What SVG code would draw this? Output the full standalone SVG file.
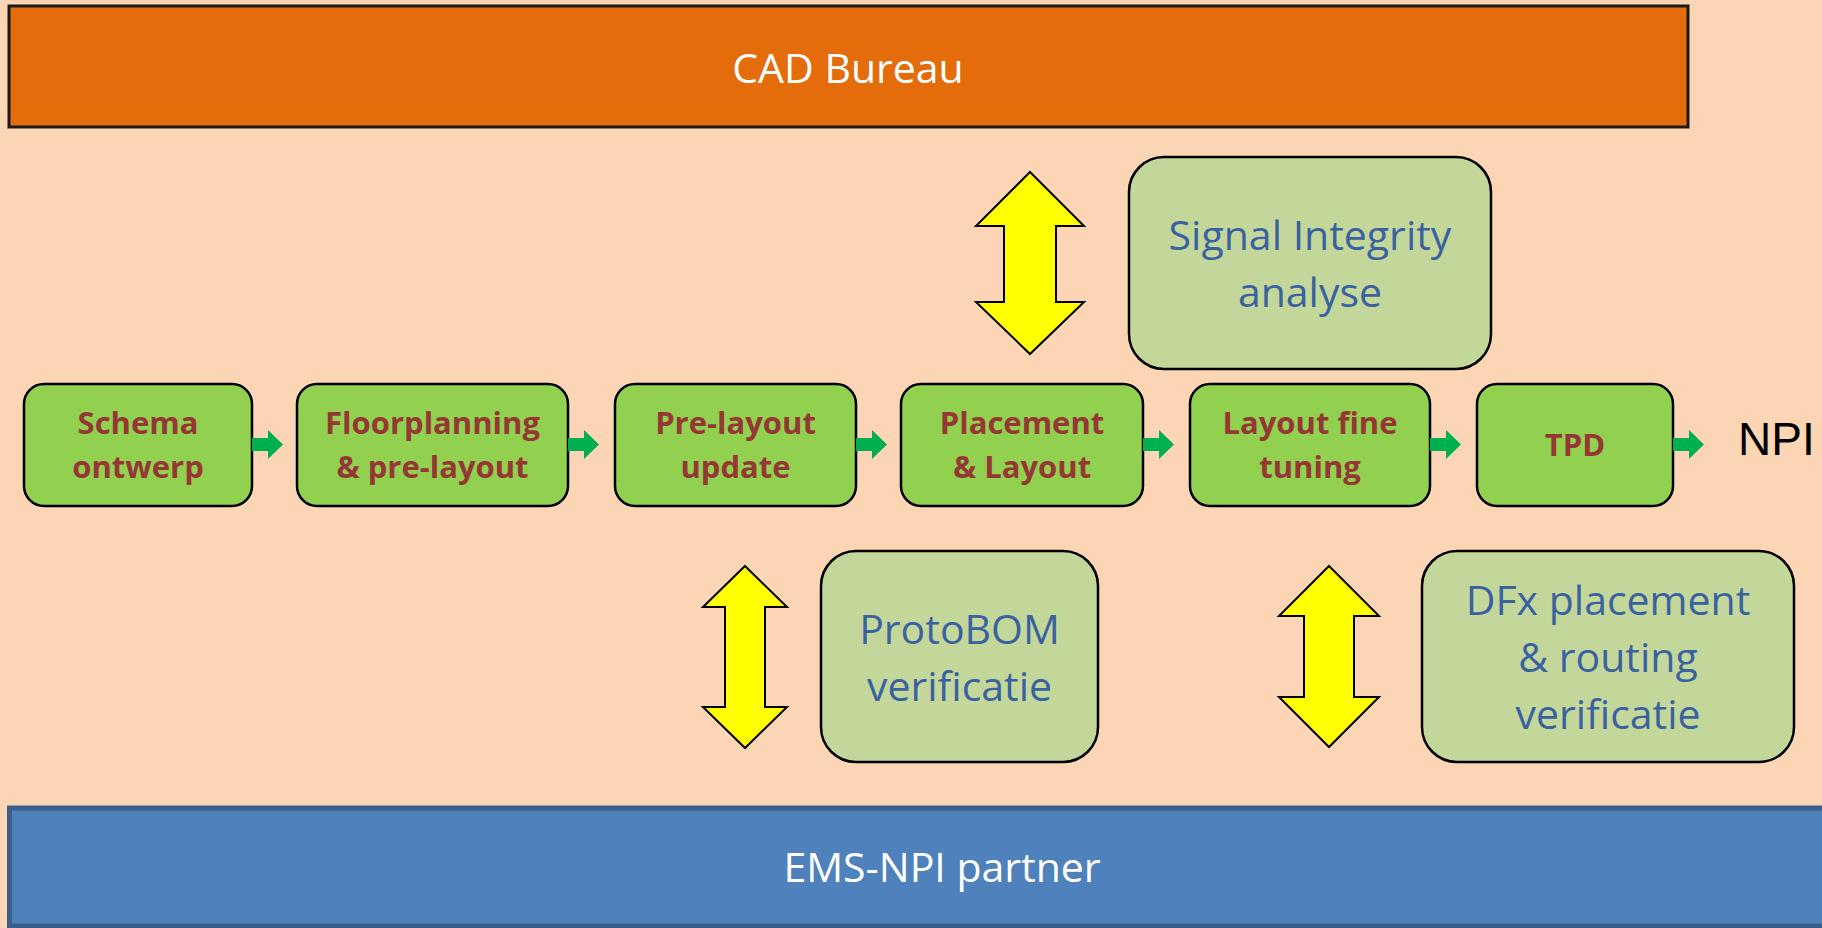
<svg xmlns="http://www.w3.org/2000/svg" xmlns:xlink="http://www.w3.org/1999/xlink" width="1822" height="928" viewBox="0 0 1822 928">
  <style>
    .step { fill: #92d050; stroke: #000; stroke-width: 2.5; }
    .step-t { font-family: "Open Sans", "Liberation Sans", sans-serif; font-weight: bold; font-size: 31px; fill: #953735; text-anchor: middle; }
    .task { fill: #c4d79b; stroke: #000; stroke-width: 2.5; }
    .task-t { font-family: "Open Sans", "Liberation Sans", sans-serif; font-size: 41px; fill: #3a62a0; text-anchor: middle; }
    .band-t { font-family: "Open Sans", "Liberation Sans", sans-serif; font-size: 41px; fill: #ffffff; text-anchor: middle; }
    .dbl { fill: #ffff00; stroke: #000; stroke-width: 2; stroke-linejoin: miter; }
    .flow { fill: #00b050; }
  </style>
  <defs>
    <path id="ga" d="M0,-6.5 L16,-6.5 L16,-14.5 L31,0 L16,14.5 L16,6.5 L0,6.5 Z"/>
  </defs>
  <rect x="0" y="0" width="1822" height="928" fill="#fcd5b5"/>

  <g id="cad-bureau">
    <rect x="9" y="6" width="1679" height="121" fill="#e46c0a" stroke="#1a1a1a" stroke-width="3"/>
    <text class="band-t" x="848" y="83">CAD Bureau</text>
  </g>

  <g id="ems-npi-partner">
    <rect x="9.5" y="808" width="1880" height="118" fill="#4f81bd" stroke="#3a5f8b" stroke-width="5"/>
    <text class="band-t" x="942" y="882">EMS-NPI partner</text>
  </g>

  <g id="signal-integrity">
    <rect class="task" x="1129" y="157" width="362" height="212" rx="35" ry="35"/>
    <text class="task-t" x="1310" y="250">Signal Integrity</text>
    <text class="task-t" x="1310" y="307">analyse</text>
  </g>

  <g id="protobom">
    <rect class="task" x="821" y="551" width="277" height="211" rx="35" ry="35"/>
    <text class="task-t" x="959.5" y="644">ProtoBOM</text>
    <text class="task-t" x="959.5" y="701">verificatie</text>
  </g>

  <g id="dfx">
    <rect class="task" x="1422" y="551" width="372" height="211" rx="35" ry="35"/>
    <text class="task-t" x="1608" y="615">DFx placement</text>
    <text class="task-t" x="1608" y="672">&amp; routing</text>
    <text class="task-t" x="1608" y="729">verificatie</text>
  </g>

  <g id="schema">
    <rect class="step" x="24" y="384" width="228" height="122" rx="20" ry="20"/>
    <text class="step-t" x="138" y="434">Schema</text>
    <text class="step-t" x="138" y="478">ontwerp</text>
  </g>
  <g id="floorplanning">
    <rect class="step" x="297" y="384" width="271" height="122" rx="20" ry="20"/>
    <text class="step-t" x="432.5" y="434">Floorplanning</text>
    <text class="step-t" x="432.5" y="478">&amp; pre-layout</text>
  </g>
  <g id="pre-layout-update">
    <rect class="step" x="615" y="384" width="241" height="122" rx="20" ry="20"/>
    <text class="step-t" x="735.5" y="434">Pre-layout</text>
    <text class="step-t" x="735.5" y="478">update</text>
  </g>
  <g id="placement-layout">
    <rect class="step" x="901" y="384" width="242" height="122" rx="20" ry="20"/>
    <text class="step-t" x="1022" y="434">Placement</text>
    <text class="step-t" x="1022" y="478">&amp; Layout</text>
  </g>
  <g id="layout-fine-tuning">
    <rect class="step" x="1190" y="384" width="240" height="122" rx="20" ry="20"/>
    <text class="step-t" x="1310" y="434">Layout fine</text>
    <text class="step-t" x="1310" y="478">tuning</text>
  </g>
  <g id="tpd">
    <rect class="step" x="1477" y="384" width="196" height="122" rx="20" ry="20"/>
    <text class="step-t" x="1575" y="456">TPD</text>
  </g>

  <g id="npi">
    <text x="1738" y="455" font-family="'Liberation Sans', Arial, sans-serif" font-size="46" fill="#000">NPI</text>
  </g>

  <g id="connectors">
    <use xlink:href="#ga" class="flow" x="252" y="444.5"/>
    <use xlink:href="#ga" class="flow" x="568" y="444.5"/>
    <use xlink:href="#ga" class="flow" x="856" y="444.5"/>
    <use xlink:href="#ga" class="flow" x="1143" y="444.5"/>
    <use xlink:href="#ga" class="flow" x="1430" y="444.5"/>
    <use xlink:href="#ga" class="flow" x="1673" y="444.5"/>
    <path class="dbl" d="M1030,172 L1084,226 L1056,226 L1056,302 L1084,302 L1030,354 L976,302 L1004,302 L1004,226 L976,226 Z"/>
    <path class="dbl" d="M745,566 L787,607 L765,607 L765,707 L787,707 L745,748 L703,707 L725,707 L725,607 L703,607 Z"/>
    <path class="dbl" d="M1329,566 L1379,616 L1354,616 L1354,697 L1379,697 L1329,747 L1279,697 L1304,697 L1304,616 L1279,616 Z"/>
  </g>
</svg>
